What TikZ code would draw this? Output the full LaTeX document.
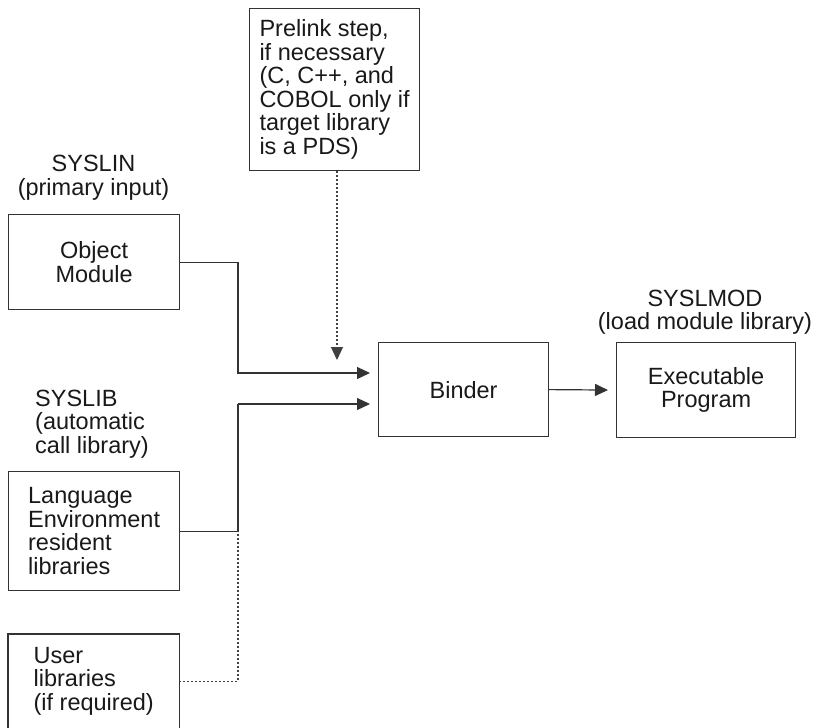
\documentclass[tikz,border=0pt]{standalone}
\usepackage{fontspec}
\setmainfont{Liberation Sans}
\usetikzlibrary{arrows.meta}
\begin{document}
\begin{tikzpicture}[x=1pt,y=-1pt,
  txt/.style={font=\fontsize{23.5}{23.5}\selectfont, inner sep=0pt, text=black!90},
  box/.style={txt, draw=black!80, line width=1.2pt, anchor=north west},
  conn/.style={draw=black!80, line width=1.2pt},
  arr/.style={conn, -{Triangle[length=13pt,width=12pt]}},
  dots/.style={draw=black!75, line width=1.2pt, dash pattern=on 2pt off 2pt},
]
\useasboundingbox (0,0) rectangle (815,728);

% boxes
\node[box, minimum width=170pt, minimum height=162pt, align=left] (pre) at (249,8)
  {Prelink step,\\if necessary\\(C, C++, and\\COBOL only if\\target library\\is a PDS)};
\node[box, minimum width=171pt, minimum height=95pt, align=center] (om) at (8,214)
  {Object\\Module};
\node[box, minimum width=170pt, minimum height=94pt] (bind) at (378,342) {Binder};
\node[box, minimum width=179pt, minimum height=95pt, align=center] (exe) at (616,342)
  {Executable\\Program};
\node[box, minimum width=171pt, minimum height=119pt, align=left] (le) at (8,471)
  {Language\\Environment\\resident\\libraries};
\node[txt, anchor=north west, minimum width=171pt, minimum height=94pt, align=left] (ul) at (8,634)
  {User\\libraries\\(if required)};
\draw[conn] (ul.south west) -- (ul.north west) -- (ul.north east) -- (ul.south east);

% labels
\node[txt, align=center] (syslin) at (93.5,177.5) {SYSLIN\\(primary input)};
\node[txt, align=left, anchor=west] (syslib) at (35,424) {SYSLIB\\(automatic\\call library)};
\node[txt, align=center] (syslmod) at (705,312) {SYSLMOD\\(load module library)};

% junction coordinates
\coordinate (k1) at (238,373);
\coordinate (b1) at (378,373);
\coordinate (k2) at (238,404);
\coordinate (b2) at (378,404);
\coordinate (pd) at (337,360);

% connectors
\draw[arr, shorten >=8pt] (om.east) -| (k1) -- (b1);
\draw[arr, shorten >=8pt] (k2) -- (b2);
\draw[conn] (le.east) -| (k2);
\draw[dots] (ul.east) -| (k2 |- le.east);
\draw[arr, dots] (pd |- pre.south) -- (pd);
\draw[arr, shorten >=8pt] (bind.east) -- (exe.west);
\end{tikzpicture}
\end{document}
